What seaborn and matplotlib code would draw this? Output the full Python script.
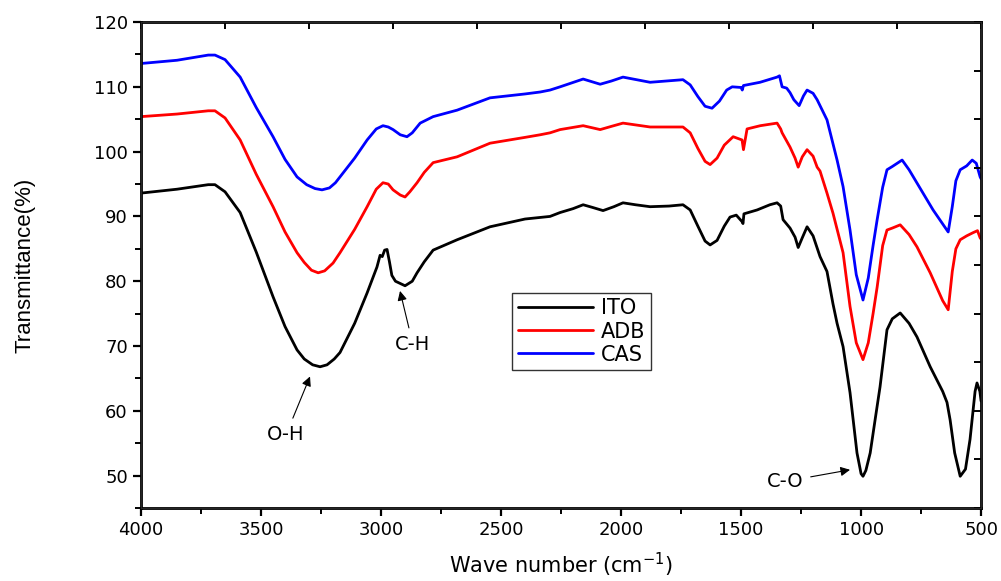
import numpy as np
import pandas as pd
import matplotlib
matplotlib.use("Agg")
import matplotlib.pyplot as plt
from matplotlib.ticker import MultipleLocator
import seaborn as sns

# FTIR spectra (wavenumber cm-1, transmittance %)
ito_wn = [4000, 3850, 3720, 3692, 3650, 3587, 3520, 3450, 3400, 3350, 3320, 3285, 3254, 3225, 3195, 3171, 3110,
          3058, 3017, 3004, 2995, 2985, 2975, 2965, 2955, 2940, 2900, 2870, 2850, 2820, 2783, 2683,
          2546, 2400, 2296, 2254, 2200, 2158, 2120, 2075, 2030, 1992, 1940, 1879, 1800, 1742, 1712,
          1680, 1650, 1629, 1600, 1570, 1546, 1520, 1496, 1492, 1488, 1433, 1380, 1350, 1335, 1325,
          1296, 1275, 1262, 1245, 1225, 1200, 1171, 1142, 1117, 1100, 1075, 1046, 1017, 1000, 992,
          980, 962, 940, 921, 892, 870, 837, 800, 767, 712, 660, 642, 629, 610, 587, 565, 546, 525,
          517, 505, 500]
ito_t = [93.6, 94.2, 94.9, 94.9, 93.8, 90.6, 84.5, 77.6, 73.0, 69.4, 68.0, 67.1, 66.8, 67.1, 68.0, 69.0, 73.5,
         78.2, 82.2, 84.0, 83.8, 84.8, 84.9, 83.0, 80.9, 80.0, 79.3, 80.0, 81.3, 83.0, 84.8, 86.4,
         88.4, 89.6, 90.0, 90.6, 91.2, 91.8, 91.4, 90.9, 91.5, 92.1, 91.8, 91.5, 91.6, 91.8, 91.0,
         88.5, 86.2, 85.6, 86.3, 88.5, 89.9, 90.2, 89.2, 88.9, 90.4, 91.0, 91.8, 92.1, 91.6, 89.5,
         88.2, 86.8, 85.2, 86.7, 88.4, 87.0, 83.8, 81.5, 76.5, 73.5, 69.9, 62.8, 53.5, 50.3, 49.9,
         50.8, 53.5, 59.0, 63.7, 72.5, 74.2, 75.1, 73.5, 71.4, 66.8, 63.0, 61.3, 58.6, 53.5, 49.9,
         51.0, 55.6, 63.0, 64.3, 63.0, 61.5]

adb_wn = [4000, 3850, 3720, 3692, 3650, 3587, 3520, 3450, 3400, 3350, 3320, 3290, 3262, 3235, 3200, 3171, 3110,
          3058, 3020, 2992, 2970, 2950, 2920, 2900, 2880, 2850, 2820, 2783, 2683, 2546, 2400, 2337,
          2296, 2254, 2158, 2087, 2040, 1992, 1879, 1742, 1712, 1680, 1650, 1629, 1600, 1570, 1533,
          1496, 1490, 1475, 1420, 1350, 1335, 1329, 1296, 1275, 1262, 1245, 1225, 1200, 1183, 1171,
          1142, 1117, 1075, 1046, 1020, 992, 970, 950, 933, 910, 892, 870, 837, 800, 767, 712, 660,
          637, 620, 605, 587, 560, 533, 515, 504, 500]
adb_t = [105.4, 105.8, 106.3, 106.3, 105.2, 101.8, 96.5, 91.5, 87.6, 84.4, 82.9, 81.7, 81.3, 81.6, 82.8, 84.4, 88.0,
         91.5, 94.2, 95.2, 95.0, 94.1, 93.3, 93.0, 93.8, 95.2, 96.8, 98.3, 99.2, 101.3, 102.2, 102.6,
         102.9, 103.4, 104.0, 103.4, 103.9, 104.4, 103.8, 103.8, 102.9, 100.5, 98.5, 98.0, 99.0, 101.0, 102.3,
         101.8, 100.3, 103.5, 104.0, 104.4, 103.5, 102.9, 100.7, 99.0, 97.6, 99.2, 100.3, 99.3, 97.6, 97.0,
         93.6, 90.5, 84.4, 76.1, 70.5, 67.9, 70.5, 75.0, 79.1, 85.5, 87.9, 88.2, 88.7, 87.2, 85.3, 81.3, 77.0,
         75.6, 81.5, 85.0, 86.4, 87.0, 87.5, 87.8, 86.7, 86.5]

cas_wn = [4000, 3850, 3720, 3692, 3650, 3587, 3520, 3450, 3400, 3350, 3310, 3275, 3246, 3215, 3190, 3171, 3110,
          3058, 3020, 2992, 2970, 2950, 2920, 2892, 2870, 2837, 2783, 2683, 2546, 2400, 2337, 2296,
          2254, 2158, 2087, 2040, 1992, 1879, 1742, 1712, 1680, 1650, 1621, 1590, 1560, 1537, 1500,
          1495, 1490, 1421, 1350, 1340, 1329, 1310, 1296, 1280, 1258, 1240, 1225, 1200, 1183, 1142,
          1100, 1075, 1046, 1020, 992, 970, 950, 933, 910, 892, 870, 829, 800, 742, 700, 637, 620,
          605, 587, 560, 537, 520, 504, 500]
cas_t = [113.6, 114.1, 114.9, 114.9, 114.2, 111.5, 106.8, 102.3, 98.8, 96.1, 94.9, 94.3, 94.1, 94.4, 95.2, 96.1, 99.0,
         101.8, 103.5, 104.0, 103.8, 103.4, 102.6, 102.3, 102.9, 104.4, 105.4, 106.4, 108.3, 108.9, 109.2, 109.5,
         110.0, 111.2, 110.4, 110.9, 111.5, 110.7, 111.1, 110.3, 108.5, 107.0, 106.7, 107.8, 109.5, 110.0, 109.9,
         109.5, 110.2, 110.7, 111.5, 111.7, 110.0, 109.8, 109.1, 108.0, 107.1, 108.6, 109.5, 109.0, 108.0, 104.9,
         98.7, 94.6, 87.9, 81.0, 77.1, 80.5, 85.5, 89.5, 94.5, 97.2, 97.7, 98.7, 97.2, 93.6, 91.0, 87.6, 91.5,
         95.5, 97.2, 97.8, 98.7, 98.2, 96.1, 95.8]

samples = ["ITO", "ADB", "CAS"]
colors = ["black", "red", "blue"]

df = pd.concat([
    pd.DataFrame({"wn": ito_wn, "T": ito_t, "sample": "ITO"}),
    pd.DataFrame({"wn": adb_wn, "T": adb_t, "sample": "ADB"}),
    pd.DataFrame({"wn": cas_wn, "T": cas_t, "sample": "CAS"}),
], ignore_index=True)

sns.set_style("ticks")
plt.rcParams["font.family"] = ["DejaVu Sans"]
plt.rcParams["text.color"] = "black"
plt.rcParams["axes.labelcolor"] = "black"
plt.rcParams["xtick.color"] = "black"
plt.rcParams["ytick.color"] = "black"

fig = plt.figure(figsize=(10.01, 5.81), dpi=100)
ax = fig.add_axes([0.1409, 0.1256, 0.8392, 0.8365])

sns.lineplot(ax=ax, data=df, x="wn", y="T", hue="sample", hue_order=samples,
             palette=dict(zip(samples, colors)), estimator=None, sort=True, lw=2)

ax.set_xlim(4000, 500)
ax.set_ylim(45, 120)
ax.xaxis.set_major_locator(MultipleLocator(500))
ax.xaxis.set_minor_locator(MultipleLocator(250))
ax.yaxis.set_major_locator(MultipleLocator(10))
ax.yaxis.set_minor_locator(MultipleLocator(5))
ax.set_yticks(np.arange(50, 121, 10))
ax.tick_params(which="major", direction="out", length=6, width=1.6, labelsize=13, colors="black")
ax.tick_params(which="minor", direction="out", length=4, width=1.4)
for s in ax.spines.values():
    s.set_visible(True)
    s.set_linewidth(2)
    s.set_color("black")

# inward ticks on the top and right frame
axt = ax.twiny()
axt.set_xlim(4000, 500)
axt.set_xticks(np.arange(4000, 499, -350))
axt.tick_params(direction="in", length=5, width=1.4, labeltop=False)
axr = ax.twinx()
axr.set_ylim(45, 120)
axr.set_yticks(np.arange(45, 121, 7.5))
axr.tick_params(direction="in", length=5, width=1.4, labelright=False)

ax.set_xlabel("Wave number (cm$^{-1}$)", fontsize=15, labelpad=8)
ax.set_ylabel("Transmittance(%)", fontsize=16, labelpad=42,
              family=["Liberation Sans Narrow", "Liberation Sans", "DejaVu Sans"])

leg = ax.legend(title=None, loc="upper left", bbox_to_anchor=(0.442, 0.442), borderaxespad=0,
                fontsize=15, handlelength=3.6, handletextpad=0.4, labelspacing=0.15,
                frameon=True, fancybox=False, edgecolor="black", borderpad=0.25)
leg.get_frame().set_linewidth(1.0)
for t in leg.get_texts():
    t.set_color("black")

arrow = dict(arrowstyle="-|>", color="black", lw=0.8, mutation_scale=14, shrinkA=3, shrinkB=0)
ax.annotate("O-H", xy=(3296, 65.3), xytext=(3396, 56.3), ha="center", va="center",
            fontsize=14, arrowprops=arrow)
ax.annotate("C-H", xy=(2921, 78.5), xytext=(2867, 70.2), ha="center", va="center",
            fontsize=14, arrowprops=arrow)
ax.annotate("C-O", xy=(1046, 50.9), xytext=(1317, 49.1), ha="center", va="center",
            fontsize=14, arrowprops=arrow)

fig.savefig("out.png", dpi=100)
